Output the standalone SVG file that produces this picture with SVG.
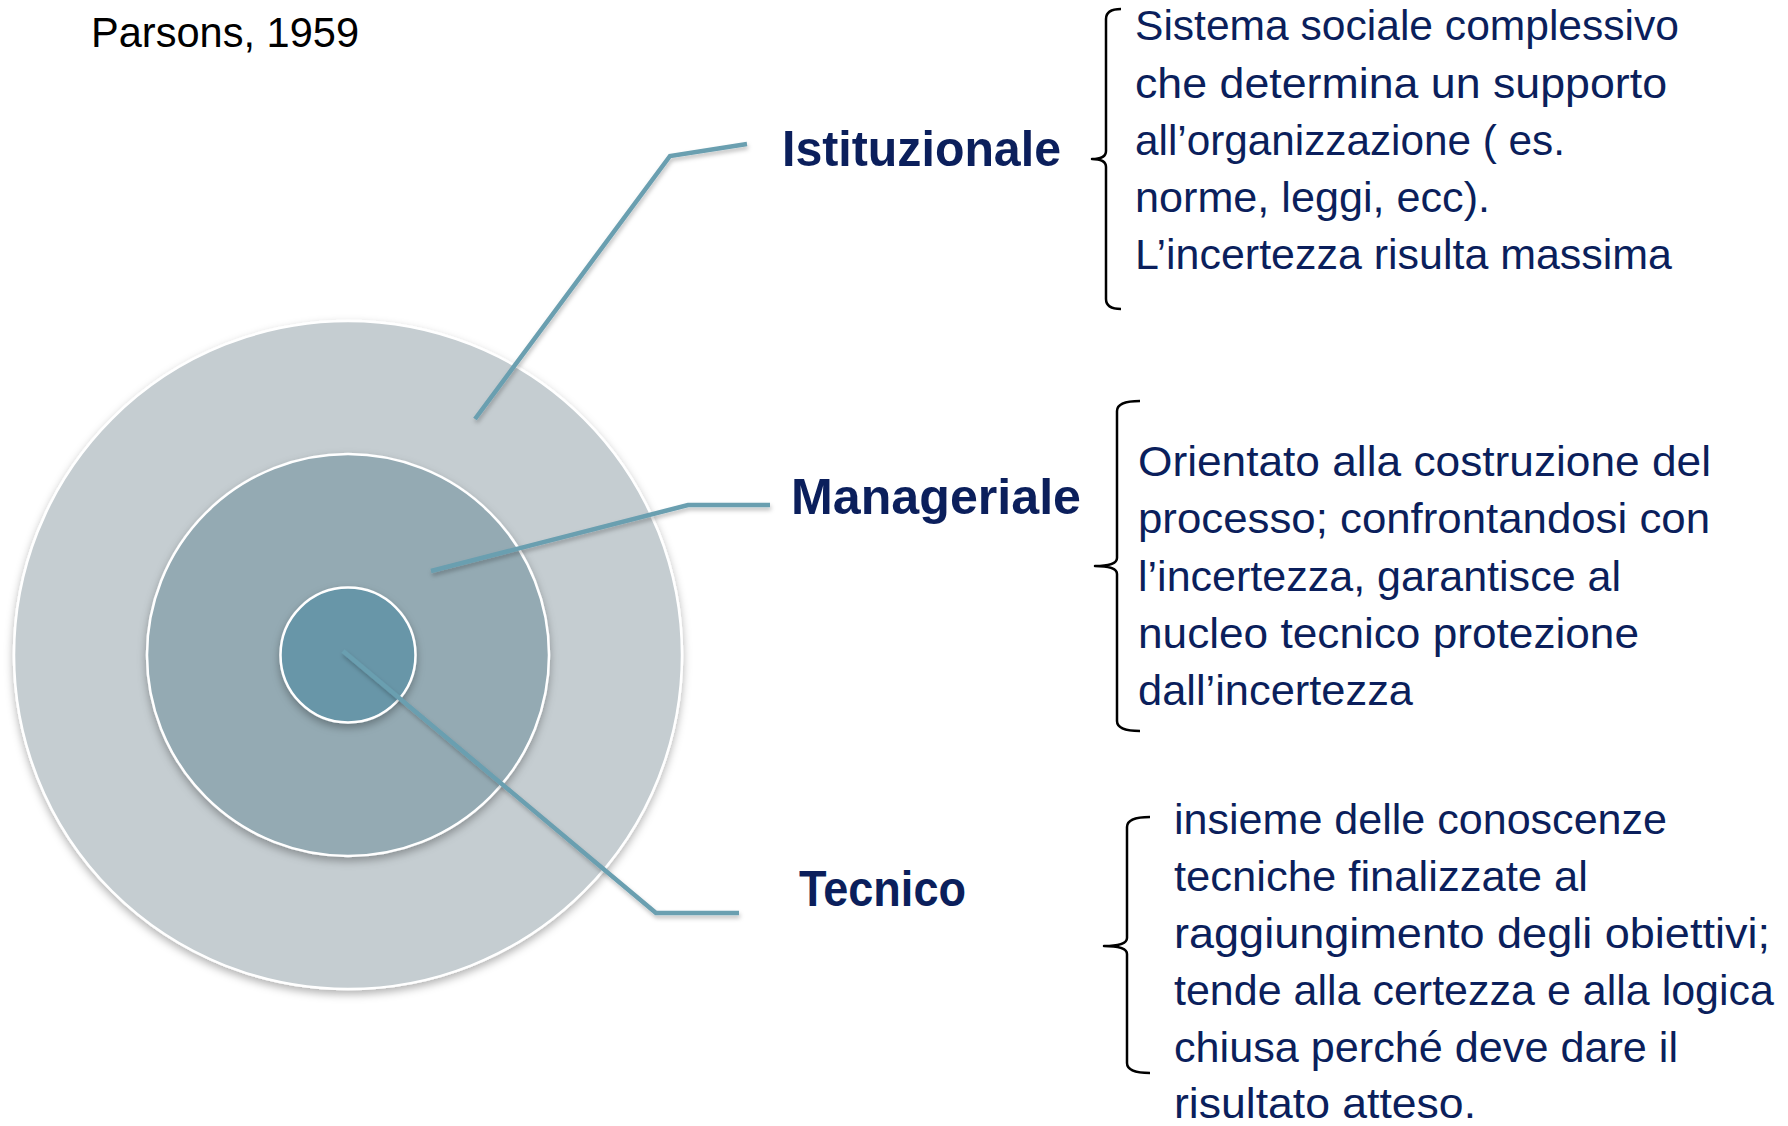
<svg xmlns="http://www.w3.org/2000/svg" width="1788" height="1126" viewBox="0 0 1788 1126">
<style>
.lbl{font-family:"Liberation Sans",Arial,sans-serif;font-weight:bold;font-size:50px;fill:#0B1F5C}
.txt{font-family:"Liberation Sans",Arial,sans-serif;font-size:42px;fill:#0B1F5C}
.ring{stroke:#FFFFFF;stroke-width:2.5}
.brace{fill:none;stroke:#000000;stroke-width:2.5;stroke-linejoin:round}
.conn{fill:none;stroke:#6A9FB0;stroke-width:4.5;stroke-linejoin:miter}
</style>
<defs>
<filter id="sh" x="-20%" y="-20%" width="140%" height="140%">
<feDropShadow dx="0" dy="4" stdDeviation="4" flood-color="#000000" flood-opacity="0.3"/>
</filter>
<filter id="lsh" x="-20%" y="-20%" width="140%" height="140%">
<feDropShadow dx="1" dy="3" stdDeviation="2" flood-color="#000000" flood-opacity="0.25"/>
</filter>
</defs>
<rect width="1788" height="1126" fill="#FFFFFF"/>
<text x="91" y="47" font-family="'Liberation Sans',Arial,sans-serif" font-size="42" fill="#000000" textLength="268" lengthAdjust="spacingAndGlyphs">Parsons, 1959</text>
<g id="ring-outer"><circle class="ring" cx="348" cy="655" r="334" fill="#C5CDD1" filter="url(#sh)"/></g>
<g id="ring-middle"><circle class="ring" cx="348" cy="655" r="201" fill="#94AAB3" filter="url(#sh)"/></g>
<g id="ring-inner"><circle class="ring" cx="348" cy="655" r="67.5" fill="#6896A8" filter="url(#sh)"/></g>
<g id="connectors" filter="url(#lsh)">
<polyline class="conn" points="475,419 670,156 747,144"/>
<polyline class="conn" points="431,571 688,505 770,505"/>
<polyline class="conn" points="343,651 656,913 739,913"/>
</g>
<g id="label-istituzionale"><text class="lbl" x="782" y="166" textLength="279" lengthAdjust="spacingAndGlyphs">Istituzionale</text></g>
<g id="label-manageriale"><text class="lbl" x="791" y="514" textLength="290" lengthAdjust="spacingAndGlyphs">Manageriale</text></g>
<g id="label-tecnico"><text class="lbl" x="799" y="906" textLength="167" lengthAdjust="spacingAndGlyphs">Tecnico</text></g>
<g id="desc-istituzionale">
<path class="brace" d="M1121,9 Q1106,9 1106,19 L1106,151 Q1106,159 1092,159 Q1106,159 1106,167 L1106,299 Q1106,309 1121,309"/>
<text class="txt" x="1135" y="40" textLength="544" lengthAdjust="spacingAndGlyphs">Sistema sociale complessivo</text>
<text class="txt" x="1135" y="97.5" textLength="532" lengthAdjust="spacingAndGlyphs">che determina un supporto</text>
<text class="txt" x="1135" y="155" textLength="430" lengthAdjust="spacingAndGlyphs">all’organizzazione ( es.</text>
<text class="txt" x="1135" y="212" textLength="355" lengthAdjust="spacingAndGlyphs">norme, leggi, ecc).</text>
<text class="txt" x="1135" y="269" textLength="537" lengthAdjust="spacingAndGlyphs">L’incertezza risulta massima</text>
</g>
<g id="desc-manageriale">
<path class="brace" d="M1140,401 Q1117,401 1117,411 L1117,558 Q1117,566 1095,566 Q1117,566 1117,574 L1117,721 Q1117,731 1140,731"/>
<text class="txt" x="1138" y="476" textLength="573" lengthAdjust="spacingAndGlyphs">Orientato alla costruzione del</text>
<text class="txt" x="1138" y="533" textLength="572" lengthAdjust="spacingAndGlyphs">processo; confrontandosi con</text>
<text class="txt" x="1138" y="590.5" textLength="483" lengthAdjust="spacingAndGlyphs">l’incertezza, garantisce al</text>
<text class="txt" x="1138" y="648" textLength="501" lengthAdjust="spacingAndGlyphs">nucleo tecnico protezione</text>
<text class="txt" x="1138" y="705" textLength="275" lengthAdjust="spacingAndGlyphs">dall’incertezza</text>
</g>
<g id="desc-tecnico">
<path class="brace" d="M1150,817 Q1127,817 1127,827 L1127,938 Q1127,946 1104,946 Q1127,946 1127,954 L1127,1063 Q1127,1073 1150,1073"/>
<text class="txt" x="1174" y="834" textLength="493" lengthAdjust="spacingAndGlyphs">insieme delle conoscenze</text>
<text class="txt" x="1174" y="891" textLength="414" lengthAdjust="spacingAndGlyphs">tecniche finalizzate al</text>
<text class="txt" x="1174" y="948" textLength="596" lengthAdjust="spacingAndGlyphs">raggiungimento degli obiettivi;</text>
<text class="txt" x="1174" y="1005" textLength="600" lengthAdjust="spacingAndGlyphs">tende alla certezza e alla logica</text>
<text class="txt" x="1174" y="1062" textLength="504" lengthAdjust="spacingAndGlyphs">chiusa perché deve dare il</text>
<text class="txt" x="1174" y="1118" textLength="302" lengthAdjust="spacingAndGlyphs">risultato atteso.</text>
</g>
</svg>
